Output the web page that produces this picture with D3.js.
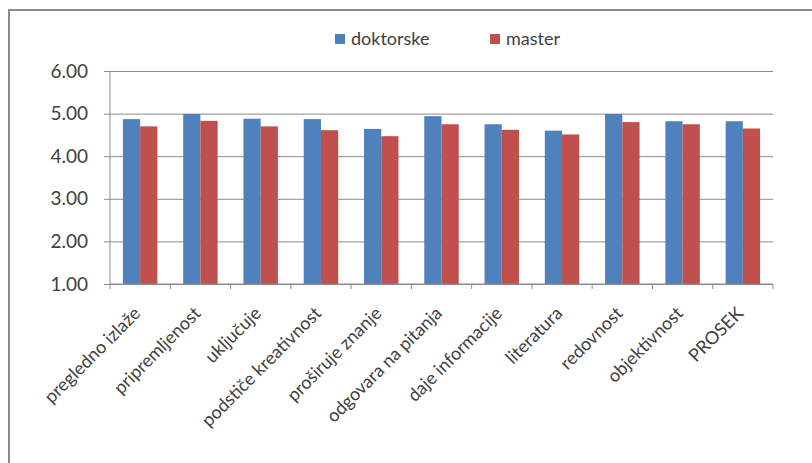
<!DOCTYPE html>
<html>
<head>
<meta charset="utf-8">
<script src="https://cdn.jsdelivr.net/npm/d3@7"></script>
<style>
  body { margin: 0; background: #fff; }
  text { font-family: Lato, "Noto Sans", sans-serif; fill: #404040; }
</style>
</head>
<body>
<div class="chart"></div>
<script>
// categories and values
var categories = ['pregledno izlaže', 'pripremljenost', 'uključuje', 'podstiče kreativnost',
  'proširuje znanje', 'odgovara na pitanja', 'daje informacije', 'literatura',
  'redovnost', 'objektivnost', 'PROSEK'];
var doktorske = [4.87, 4.99, 4.88, 4.87, 4.64, 4.94, 4.75, 4.60, 4.99, 4.82, 4.82];
var master    = [4.70, 4.83, 4.70, 4.61, 4.47, 4.75, 4.62, 4.51, 4.80, 4.75, 4.65];
var seriesNames = ['doktorske', 'master'];
var yTicks = [1, 2, 3, 4, 5, 6];

var width = 812, height = 463;
var plot = { left: 110, right: 773, top: 71, bottom: 284 };
var colors = { doktorske: '#4F81BD', master: '#C0504D' };

var svg = d3.select('.chart').append('svg')
  .attr('width', width)
  .attr('height', height);

// chart frame (runs off the right / bottom edge like the screenshot)
svg.append('rect')
  .attr('x', 9).attr('y', 10)
  .attr('width', width).attr('height', height)
  .attr('fill', 'none')
  .attr('stroke', '#8c8c8c')
  .attr('stroke-width', 2);

var x = d3.scaleBand().domain(categories).range([plot.left, plot.right]);
// Excel gap width 150% -> bars take 2 / 3.5 of the band
var x1 = d3.scaleBand().domain(seriesNames)
  .range([0, x.bandwidth()]).paddingOuter(0.75).paddingInner(0);
var y = d3.scaleLinear().domain([1, 6]).range([plot.bottom, plot.top]);

// gridlines + y axis
var yAxis = d3.axisLeft(y).tickValues(yTicks)
  .tickFormat(d3.format('.2f'))
  .tickSize(-(plot.right - plot.left) - 6);
var yg = svg.append('g')
  .attr('transform', 'translate(' + (plot.left - 6) + ',0)')
  .call(yAxis);
yg.select('.domain').remove();
yg.selectAll('.tick line')
  .attr('stroke', '#8a8a8a')
  .attr('x1', 0);
yg.selectAll('.tick text')
  .style('font-size', '19px')
  .attr('x', -16);

svg.append('line')
  .attr('x1', plot.left).attr('x2', plot.left)
  .attr('y1', plot.top).attr('y2', plot.bottom)
  .attr('stroke', '#8a8a8a');

// bars
var groups = svg.selectAll('g.cat')
  .data(categories)
  .enter().append('g')
  .attr('class', 'cat')
  .attr('transform', function(d) { return 'translate(' + x(d) + ',0)'; });

groups.selectAll('rect')
  .data(function(d, i) {
    return [{ key: 'doktorske', v: doktorske[i] }, { key: 'master', v: master[i] }];
  })
  .enter().append('rect')
  .attr('x', function(d) { return x1(d.key); })
  .attr('width', x1.bandwidth())
  .attr('y', function(d) { return y(d.v); })
  .attr('height', function(d) { return y(1) - y(d.v); })
  .attr('fill', function(d) { return colors[d.key]; });

// x axis baseline and ticks between categories
var xg = svg.append('g');
xg.append('line')
  .attr('x1', plot.left).attr('x2', plot.right)
  .attr('y1', plot.bottom).attr('y2', plot.bottom)
  .attr('stroke', '#8a8a8a');
xg.selectAll('line.tk')
  .data(categories.concat(['end']))
  .enter().append('line')
  .attr('class', 'tk')
  .attr('x1', function(d, i) { return plot.left + i * x.bandwidth(); })
  .attr('x2', function(d, i) { return plot.left + i * x.bandwidth(); })
  .attr('y1', plot.bottom).attr('y2', plot.bottom + 5)
  .attr('stroke', '#8a8a8a');

// rotated category labels
xg.selectAll('text')
  .data(categories)
  .enter().append('text')
  .attr('transform', function(d) {
    return 'translate(' + (x(d) + x.bandwidth() / 2 - 3) + ',' + (plot.bottom + 26) + ') rotate(-45)';
  })
  .attr('text-anchor', 'end')
  .attr('dy', '0.35em')
  .style('font-size', '18px')
  .text(function(d) { return d; });

// legend
var legendItems = [
  { key: 'doktorske', x: 335 },
  { key: 'master', x: 490 }
];
var legend = svg.selectAll('g.legend')
  .data(legendItems)
  .enter().append('g')
  .attr('class', 'legend')
  .attr('transform', function(d) { return 'translate(' + d.x + ',34)'; });
legend.append('rect')
  .attr('width', 10).attr('height', 10)
  .attr('fill', function(d) { return colors[d.key]; });
legend.append('text')
  .attr('x', 16).attr('y', 5)
  .attr('dy', '0.35em')
  .style('font-size', '18px')
  .text(function(d) { return d.key; });
</script>
</body>
</html>
